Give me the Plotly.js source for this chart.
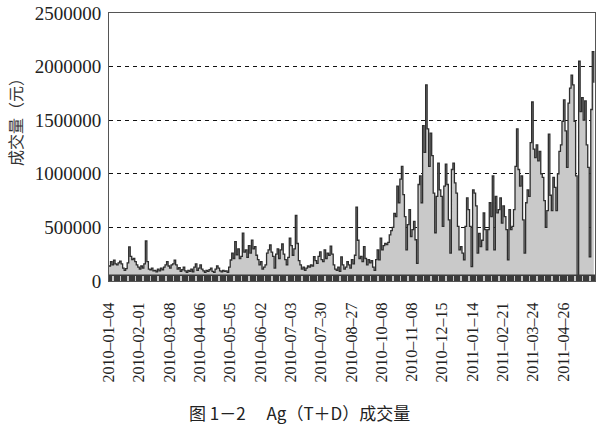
<!DOCTYPE html>
<html>
<head>
<meta charset="utf-8">
<script src="https://cdn.plot.ly/plotly-3.0.1.min.js"></script>
<style>
html,body{margin:0;padding:0;background:#fff;}
#chart{width:616px;height:438px;}
</style>
</head>
<body>
<div id="chart"></div>
<script>
// Tick labels (trading-day categories shown on the x axis) and their positions in the series
const tickLabels = ["2010–01–04","2010–02–01","2010–03–08","2010–04–06","2010–05–05","2010–06–02",
  "2010–07–03","2010–07–30","2010–08–27","2010–10–08","2010–11–08","2010–12–15",
  "2011–01–14","2011–02–21","2011–03–24","2011–04–26"];
const tickIndices = [0,20,40,60,80,100,120,140,160,180,200,220,240,260,280,300];

// Daily trading volume, thousand yuan
const volume2010H1 = [
  140,180,150,195,160,150,170,185,160,120,
  100,115,170,318,230,200,210,180,150,130,
  110,140,120,160,373,180,110,105,120,95,
  100,85,110,95,120,105,130,150,180,140,
  120,150,160,195,150,110,125,90,105,130,
  95,80,100,90,110,85,130,160,100,120,
  150,110,95,80,100,90,105,120,90,80,
  110,140,120,95,85,100,90,95,80,130,
  196,260,210,367,243,300,210,230,447,270,
  290,220,330,260,382,300,320,240,200,150,
  180,110,130,150,260,290,336,270,230,120,
  250,300,210,290,345,250,200,150,220,400,
  330,240,300,611,350
];
const volume2010H2 = [
  190,150,110,130,100,120,140,130,150,140,
  226,190,165,230,272,200,180,290,210,260,
  240,325,250,150,110,100,130,90,225,150,
  110,130,180,150,120,200,160,240,690,380,
  210,230,180,320,210,150,200,170,190,130,
  100,200,290,197,400,290,330,350,340,360,
  430,470,500,630,600,885,730,950,1070,805,
  600,290,525,665,415,480,556,385,165,900,
  980,730,1450,1200,1830,1420,1070,1380,1170,820,
  450,790,1100,850,790,510,885,1090,900,570,
  260,1040,1100,915,820,510,290
];
const volume2011 = [
  320,260,197,510,775,665,510,135,850,820,
  700,260,445,320,380,635,480,290,480,730,
  600,980,290,790,635,665,775,540,700,600,
  480,197,665,480,510,665,1070,1420,1040,885,
  980,570,260,730,850,790,1290,1670,1230,
  1150,1270,1120,1210,1000,966,750,500,657,1370,
  800,657,966,873,657,1000,1210,1270,1490,1690,
  1400,1060,1660,1800,1920,1830,1490,980,40,2050,
  1580,1710,1500,1680,1270,1060,225,1600,2140,1850
];

const yTickValues = [0,500000,1000000,1500000,2000000,2500000];

const volumeK = volume2010H1.concat(volume2010H2, volume2011);
const yuan = volumeK.map(v => v * 1000);
const xs = yuan.map((_, i) => i);
const N = yuan.length;

const bandHeight = 60000; // decorative dark strip along the axis
const areaTrace = {
  type: 'scatter', mode: 'lines', x: xs, y: yuan,
  line: {color: '#2e2e2e', width: 1.3, shape: 'hv'},
  fill: 'tozeroy', fillcolor: '#c9c9c9',
  hoverinfo: 'skip', showlegend: false
};
const bandTrace = {
  type: 'scatter', mode: 'lines', x: [0, N], y: [bandHeight, bandHeight],
  line: {width: 0, color: '#3a3a3a'}, fill: 'tozeroy', fillcolor: '#3a3a3a',
  hoverinfo: 'skip', showlegend: false
};

const layout = {
  width: 616, height: 438,
  margin: {l: 109, r: 21, t: 13, b: 157},
  paper_bgcolor: '#ffffff', plot_bgcolor: '#ffffff',
  showlegend: false,
  xaxis: {
    range: [0, N - 0.2],
    tickmode: 'array', tickvals: tickIndices, ticktext: tickLabels,
    tickangle: -90, ticks: '',
    tickfont: {family: 'Liberation Serif', size: 16, color: '#222'},
    ticklabelstandoff: 14,
    minor: {tickmode: 'linear', tick0: 2.5, dtick: 5, ticks: 'inside', ticklen: 5,
            tickwidth: 1.5, tickcolor: '#c4c4c4', showgrid: false},
    showgrid: false, zeroline: false,
    showline: true, mirror: true, linecolor: '#555', linewidth: 1
  },
  yaxis: {
    range: [0, 2500000],
    tickmode: 'array', tickvals: yTickValues, ticktext: yTickValues.map(String),
    ticks: '',
    tickfont: {family: 'Liberation Serif', size: 19, color: '#222'},
    ticklabelstandoff: 3,
    showgrid: true, gridcolor: '#111', gridwidth: 1, griddash: '4px,4px',
    zeroline: false,
    showline: true, mirror: true, linecolor: '#555', linewidth: 1
  },
  annotations: [
    {text: '成交量（元）', xref: 'paper', yref: 'paper',
     x: -94/486, y: (281-118)/268, xanchor: 'center', yanchor: 'middle',
     textangle: -90, showarrow: false,
     font: {family: 'Noto Sans CJK SC', size: 16, color: '#333'}},
    {text: '图 1－2　 Ag（T＋D）成交量', xref: 'paper', yref: 'paper',
     x: (299-109)/486, y: (281-413)/268, xanchor: 'center', yanchor: 'middle',
     showarrow: false,
     font: {family: 'Noto Sans CJK SC', size: 17, color: '#222'}}
  ]
};

Plotly.newPlot('chart', [areaTrace, bandTrace], layout, {displayModeBar: false, staticPlot: true});
</script>
</body>
</html>
